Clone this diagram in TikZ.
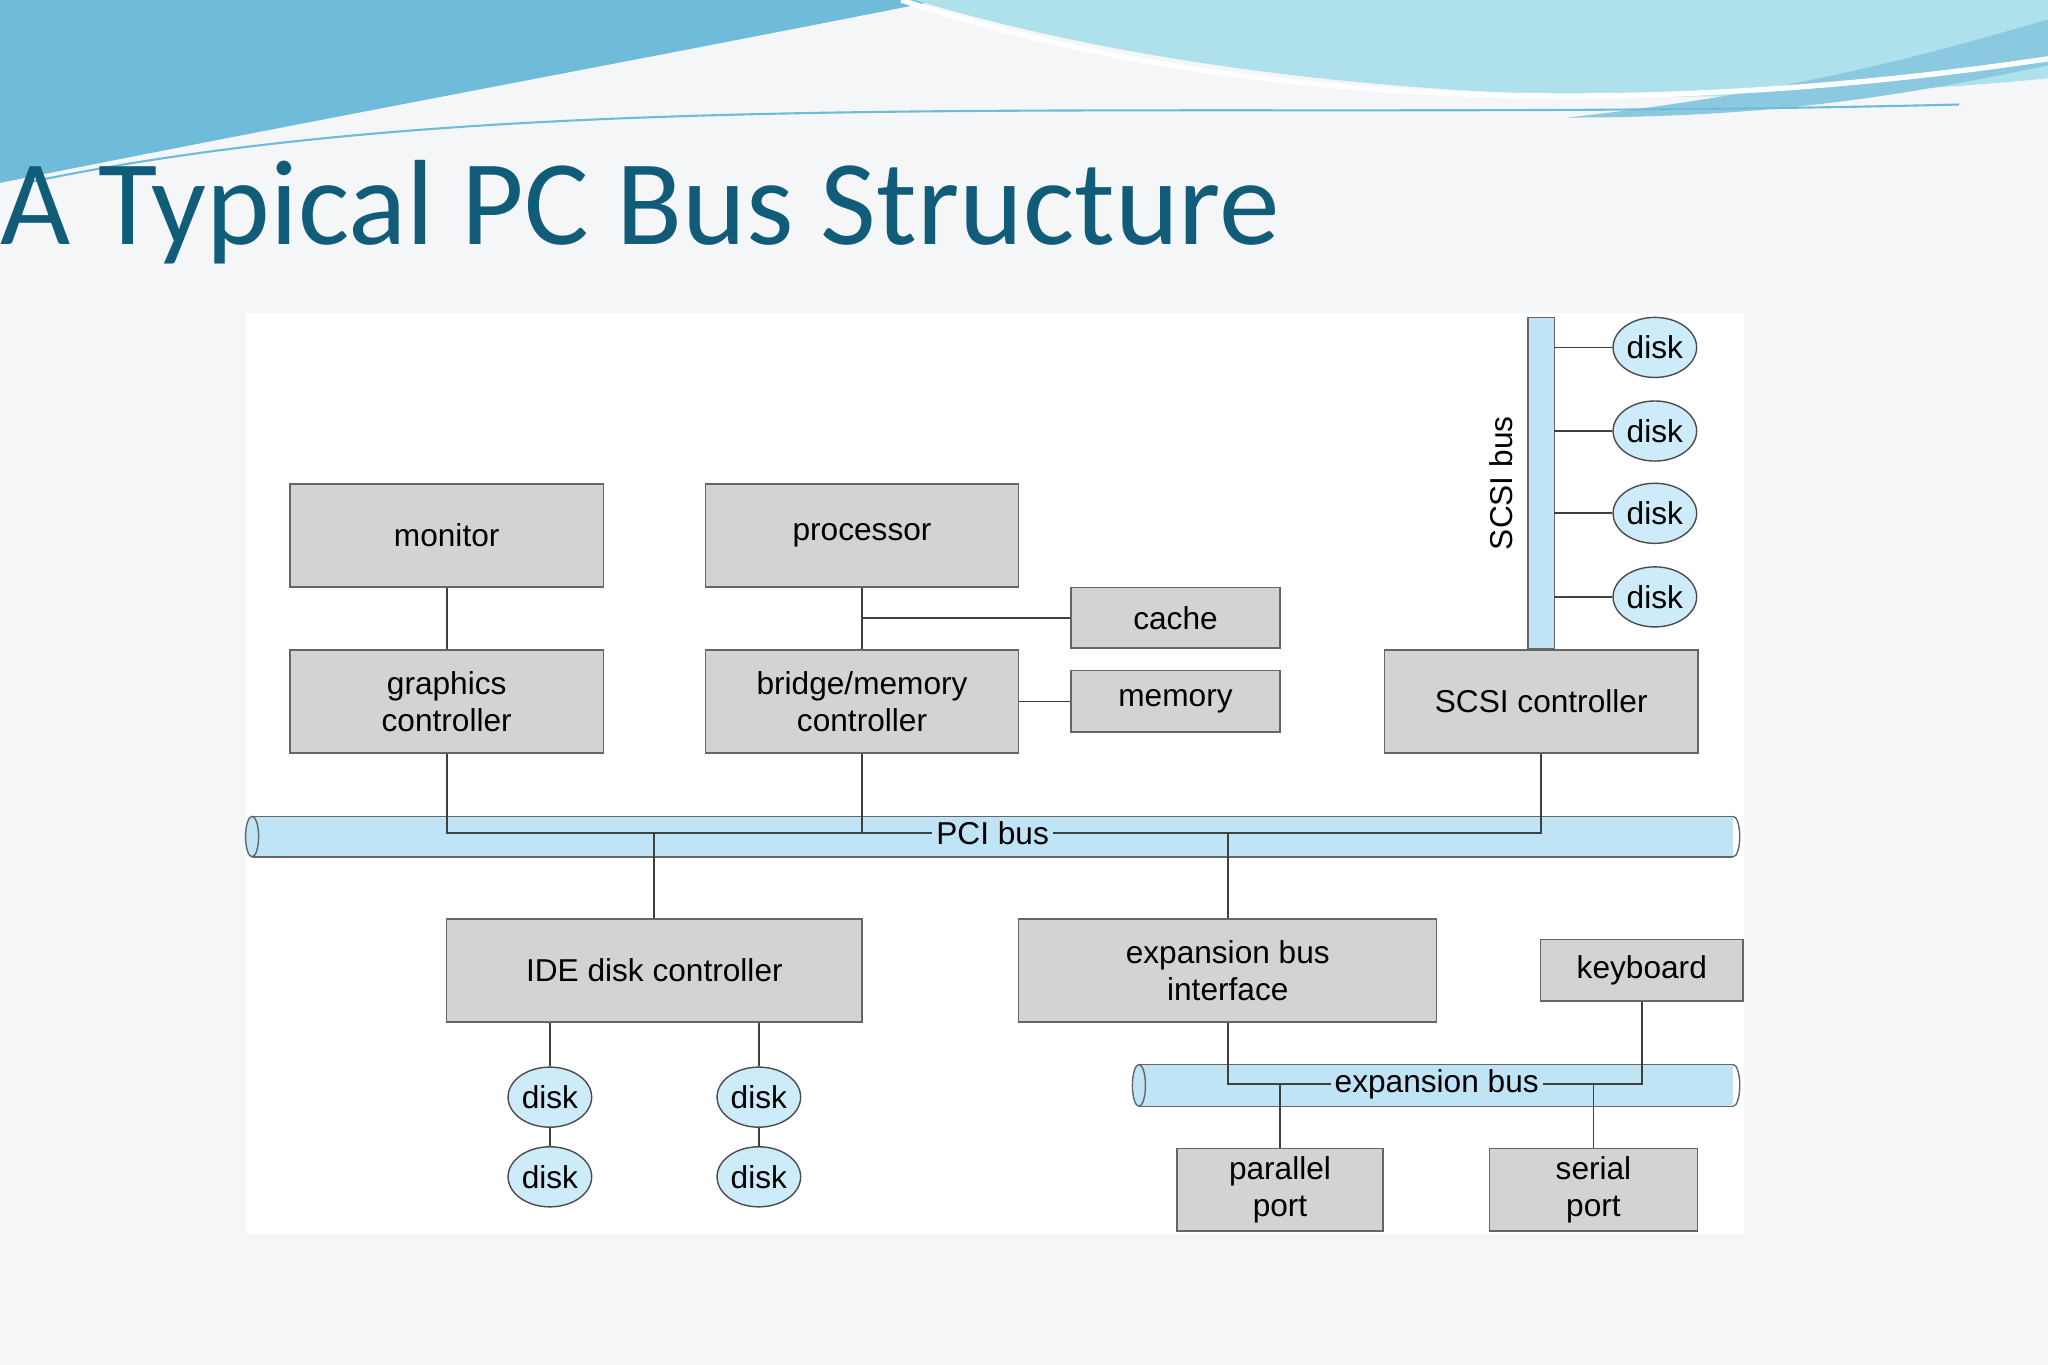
\documentclass[tikz,border=0pt]{standalone}
\usepackage{fontspec}
\setmainfont{Liberation Sans}
\newfontfamily\titlefont{Carlito}
\usetikzlibrary{shapes.geometric}
\definecolor{slidebg}{RGB}{245,246,248}
\definecolor{titleteal}{RGB}{17,92,120}
\definecolor{boxgray}{RGB}{211,211,211}
\definecolor{busblue}{RGB}{190,228,245}
\definecolor{diskblue}{RGB}{205,235,248}
\definecolor{wavedark}{RGB}{110,188,218}
\definecolor{wavelight}{RGB}{175,225,236}
\def\pxu{0.01306cm}
\tikzset{
  box/.style={draw=black!60, fill=boxgray, minimum width={#1*\pxu}, align=center,
    font=\fontsize{9}{10.5}\selectfont, inner sep=0pt},
  box/.default=240,
  disk/.style={ellipse, draw=black!70, fill=diskblue, minimum width={64*\pxu},
    minimum height={46*\pxu}, inner sep=0pt, font=\fontsize{9}{10.5}\selectfont},
  wire/.style={draw=black!75, line width=0.5pt},
  buslabel/.style={fill=busblue, inner sep=1pt, font=\fontsize{9}{10.5}\selectfont}
}
\begin{document}
\begin{tikzpicture}[x=\pxu, y=-\pxu]
    \useasboundingbox (0,0) rectangle (1568,1045);
    \fill[slidebg] (0,0) rectangle (1568,1045);

    % Top waves
    \fill[wavedark] (0,0) -- (720,0) .. controls (520,40) and (250,90) .. (0,140) -- cycle;
    \fill[wavelight] (700,0) .. controls (900,60) and (1200,95) .. (1568,60) -- (1568,0) -- cycle;
    \fill[wavedark!80] (1200,90) .. controls (1380,70) and (1480,40) .. (1568,15) -- (1568,50) .. controls (1450,75) and (1350,90) .. cycle;
    \draw[white, line width=1.5pt] (690,0) .. controls (900,70) and (1200,100) .. (1568,45);
    \draw[wavedark, line width=0.6pt] (20,140) .. controls (400,60) and (900,95) .. (1500,80);

    % Title
    \node[anchor=base west, inner sep=0pt, text=titleteal, font=\titlefont\fontsize{34.5}{36}\selectfont] (title) at (0,187) {A Typical PC Bus Structure};

    % Diagram area
    \fill[white] (188,240) rectangle (1335,945);

    % PCI bus
    \fill[busblue] (193,625) rectangle (1327,656);
    \draw[black!60] (193,625) -- (1327,625) (193,656) -- (1327,656);
    \draw[black!60, fill=busblue] (193,640.5) ellipse (5 and 15.5);
    \draw[black!60] (1327,625) arc (-90:90:5 and 15.5);
    % Expansion bus
    \fill[busblue] (872,815) rectangle (1327,847);
    \draw[black!60] (872,815) -- (1327,815) (872,847) -- (1327,847);
    \draw[black!60, fill=busblue] (872,831) ellipse (5 and 16);
    \draw[black!60] (1327,815) arc (-90:90:5 and 16);
    % SCSI bus
    \fill[busblue] (1170,243) rectangle (1190,497);
    \draw[black!60] (1170,243) rectangle (1190,497);

    % Boxes
    \node[box, minimum height={79*\pxu}] (monitor) at (342,410) {monitor};
    \node[box, minimum height={79*\pxu}] (processor) at (660,410) {processor};
    \node[box=160, minimum height={46*\pxu}] (cache) at (900,473) {cache};
    \node[box, minimum height={79*\pxu}] (graphics) at (342,537) {graphics\\controller};
    \node[box, minimum height={79*\pxu}] (bridge) at (660,537) {bridge/memory\\controller};
    \node[box=160, minimum height={47*\pxu}] (memory) at (900,537) {memory};
    \node[box, minimum height={79*\pxu}] (scsi) at (1180,537) {SCSI controller};
    \node[box=318, minimum height={79*\pxu}] (ide) at (501,743) {IDE disk controller};
    \node[box=320, minimum height={79*\pxu}] (expif) at (940,743) {expansion bus\\interface};
    \node[box=155, minimum height={47*\pxu}] (keyboard) at (1257,743) {keyboard};
    \node[box=158, minimum height={63*\pxu}] (parallel) at (980,911) {parallel\\port};
    \node[box=159, minimum height={63*\pxu}] (serial) at (1220,911) {serial\\port};

    % Bus labels
    \node[buslabel] (pcilabel) at (760,638) {PCI bus};
    \node[buslabel] (explabel) at (1100,830) {expansion bus};
    \node[rotate=90, font=\fontsize{9}{10.5}\selectfont] (scsilabel) at (1149,370) {SCSI bus};

    % Disks
    \foreach \name/\y in {sa/266, sb/330, sc/393, sd/457}
        \node[disk] (\name) at (1267,\y) {disk};
    \node[disk] (da) at (421,840) {disk};
    \node[disk] (db) at (421,901) {disk};
    \node[disk] (dc) at (581,840) {disk};
    \node[disk] (dd) at (581,901) {disk};

    % Junction points
    \coordinate (gpci) at (342,638);
    \coordinate (bpci) at (660,638);
    \coordinate (spci) at (1180,638);
    \coordinate (ipci) at (501,638);
    \coordinate (epci) at (940,638);
    \coordinate (pcache) at (660,473);
    \coordinate (eexp) at (940,830);
    \coordinate (kexp) at (1257,830);
    \coordinate (pexp) at (980,830);
    \coordinate (sexp) at (1220,830);
    \foreach \name/\y in {sa/266, sb/330, sc/393, sd/457}
        \coordinate (\name bus) at (1190,\y);

    % Connectors
    \draw[wire] (monitor) -- (graphics);
    \draw[wire] (processor) -- (bridge);
    \draw[wire] (pcache) -- (cache);
    \draw[wire] (bridge) -- (memory);
    \draw[wire] (graphics) -- (gpci) -- (pcilabel);
    \draw[wire] (bridge) -- (bpci);
    \draw[wire] (pcilabel) -- (spci) -- (scsi);
    \draw[wire] (ipci) -- (ide);
    \draw[wire] (epci) -- (expif);
    \draw[wire] (expif) -- (eexp) -- (explabel);
    \draw[wire] (explabel) -- (kexp) -- (keyboard);
    \draw[wire] (pexp) -- (parallel);
    \draw[wire] (sexp) -- (serial);
    \foreach \name in {sa, sb, sc, sd}
        \draw[wire] (\name bus) -- (\name);
    \draw[wire] (ide.south -| da) -- (da) -- (db);
    \draw[wire] (ide.south -| dc) -- (dc) -- (dd);
\end{tikzpicture}
\end{document}
